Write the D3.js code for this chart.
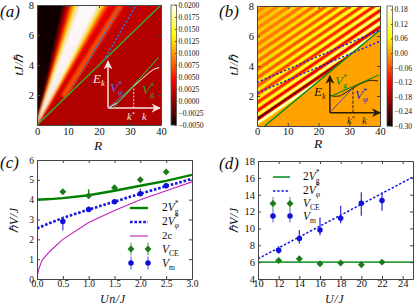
<!DOCTYPE html>
<html>
<head>
<meta charset="utf-8">
<script src="https://d3js.org/d3.v7.min.js"></script>
<style>
body { margin: 0; background: #fff; }
svg { display: block; }
text { font-family: "Liberation Serif", serif; fill: #111; }
.domain { stroke: #444; }
.tick line { stroke: #444; }
</style>
</head>
<body>
<div id="chart"></div>
<script>
// panel a: colour at t=8 for each R, the fan narrows towards the origin
var aFanR = [0, 8, 9, 10, 11, 12, 13, 14, 19.5, 20.5, 21.5, 22.5, 23.5, 24.5, 26, 30, 32, 36, 40];
var aFanV = [-0.005, -0.005, -0.002, 0.002, 0.006, 0.0115, 0.017, 0.021, 0.021, 0.017, 0.012, 0.007, 0.0042, 0.0032, 0.003, 0.0022, 0.0019, 0.0018, 0.002];
var aRidgeR = [8.5, 27.0];
var aRidgeT = [1.9, 8.0];
var aCbarTicks = [-0.005, -0.0025, 0, 0.0025, 0.005, 0.0075, 0.01, 0.0125, 0.015, 0.0175, 0.02];
var aDot1R = [10.3, 27.3], aDot1T = [2.2, 8];
var aDot2R = [21.5, 32], aDot2T = [4.3, 8];
var aGreenR = [0, 40], aGreenT = [0, 8];
var aInsetCurveR = [22.9, 26, 28.5, 31, 34, 36.5, 38, 39.4];
var aInsetCurveT = [1.13, 1.5, 2.0, 2.55, 3.1, 3.55, 3.75, 3.82];
var aInsetBlueR = [22.9, 31.2], aInsetBlueT = [1.13, 2.6];
var aInsetGreenR = [24.5, 39.2], aInsetGreenT = [1.13, 4.5];

// panel b: stripes, t where each crosses R=0 and R=40, and colour at both ends
var bStripeT0 = [0.18, 0.46, 0.73, 1.01, 1.28, 1.56, 1.83, 2.11, 2.38, 2.66, 2.93, 3.21, 3.48, 3.76, 4.03, 4.31, 4.58, 4.86, 5.13, 5.41, 5.68, 5.96, 6.23, 6.51, 6.78, 7.06, 7.33, 7.61, 7.88];
var bStripeT40 = [5.78, 6.06, 6.33, 6.61, 6.88, 7.16, 7.43, 7.71, 7.98, 8.26, 8.53, 8.81, 9.08, 9.36, 9.63, 9.91, 10.18, 10.46, 10.73, 11.01, 11.28, 11.56, 11.83, 12.11, 12.38, 12.66, 12.93, 13.21, 13.48];
var bStripeV0 = [0.19, -0.25, 0.12, -0.13, 0.08, -0.09, 0.07, -0.07, 0.06, -0.06, 0.05, -0.05, 0.05, -0.05, 0.04, -0.04, 0.04, -0.04, 0.03, -0.03, 0.03, -0.03, 0.03, -0.02, 0.03, -0.02, 0.02, -0.02, 0.02];
var bStripeV40 = [0.19, -0.17, 0.19, -0.16, 0.17, -0.14, 0.15, -0.13, 0.13, -0.12, 0.12, -0.1, 0.11, -0.09, 0.1, -0.08, 0.09, -0.08, 0.08, -0.07, 0.07, -0.06, 0.06, -0.05, 0.05, -0.05, 0.04, -0.04, 0.03];
var bCbarTicks = [-0.3, -0.24, -0.18, -0.12, -0.06, 0, 0.06, 0.12, 0.18];
var bDot1R = [0, 40], bDot1T = [2.2, 5.65];
var bDot2R = [0, 40], bDot2T = [2.9, 6.4];
var bGreenR = [2.5, 40], bGreenT = [0, 6.4];
var bInsetCurveR = [23.7, 25, 27, 29, 31.2, 33.5, 35.8, 37.5, 39.4];
var bInsetCurveT = [2.07, 1.98, 2.0, 2.25, 2.53, 2.8, 3.0, 3.05, 3.0];
var bInsetBlueR = [23.7, 31.2], bInsetBlueT = [0.89, 2.55];
var bInsetGreenR = [23.7, 39.6], bInsetGreenT = [1.95, 3.4];

// panel c
var cLineU = [0, 0.02, 0.05, 0.1, 0.25, 0.5, 1, 1.5, 2, 2.5, 3];
var cGroup = [4, 4, 4.01, 4.01, 4.03, 4.08, 4.22, 4.45, 4.7, 4.95, 5.25];
var cPhase = [2.55, 2.57, 2.6, 2.66, 2.82, 3.08, 3.5, 3.9, 4.3, 4.68, 5.05];
var cSound = [0, 0.35, 0.62, 0.95, 1.4, 2.0, 2.85, 3.45, 4.0, 4.45, 4.9];
var cPointU = [0.5, 1, 1.5, 2, 2.5];
var cCE = [4.4, 4.2, 4.6, 5.0, 5.4];
var cCEup = [0.08, 0.33, 0.12, 0.08, 0.08];
var cCEdown = [0.08, 0.1, 0.12, 0.08, 0.08];
var cVm = [2.9, 3.5, 3.9, 4.3, 4.7];
var cVmUp = [0.2, 0.15, 0.12, 0.25, 0.12];
var cVmDown = [0.45, 0.12, 0.12, 0.12, 0.12];

// panel d
var dLineU = [10, 25];
var dGroup = [6, 6];
var dPhase = [6.4, 16.1];
var dPointU = [12, 14, 16, 18, 20, 22];
var dCE = [6.2, 6.4, 5.8, 5.9, 5.7, 6.0];
var dVm = [7.4, 8.8, 9.8, 11.2, 13, 13.3];
var dVmUp = [0.5, 1.0, 1.5, 1.5, 1.3, 1.0];
var dVmDown = [0.4, 0.6, 0.6, 0.6, 1.5, 1.2];

var svg = d3.select("#chart").append("svg")
    .attr("width", 415)
    .attr("height", 307);
var defs = svg.append("defs");

defs.append("filter").attr("id", "soft")
    .attr("x", "-10%").attr("y", "-10%").attr("width", "120%").attr("height", "120%")
    .append("feGaussianBlur").attr("stdDeviation", 0.9);
defs.append("filter").attr("id", "softB")
    .attr("x", "-10%").attr("y", "-10%").attr("width", "120%").attr("height", "120%")
    .append("feGaussianBlur").attr("stdDeviation", 0.5);

defs.append("marker").attr("id", "headW")
    .attr("viewBox", "0 0 10 10").attr("refX", 9).attr("refY", 5)
    .attr("markerWidth", 6).attr("markerHeight", 6).attr("orient", "auto")
    .append("path").attr("d", "M0,0L10,5L0,10L3,5Z").attr("fill", "#f4e4e4");
defs.append("marker").attr("id", "headK")
    .attr("viewBox", "0 0 10 10").attr("refX", 9).attr("refY", 5)
    .attr("markerWidth", 6).attr("markerHeight", 6).attr("orient", "auto")
    .append("path").attr("d", "M0,0L10,5L0,10L3,5Z").attr("fill", "#2a1c00");

// matplotlib hot
function hotScale(lo, hi) {
    var s = d3.scaleLinear().domain([0, 0.365, 0.746, 1])
        .range(["#0a0000", "#ff0000", "#ffff00", "#ffffff"]).clamp(true);
    return function (v) { return s((v - lo) / (hi - lo)); };
}
var aColor = hotScale(-0.005, 0.02);
var bColor = hotScale(-0.30, 0.194);

function frame(g, x, y, xTicks, yTicks, xFmt, yFmt, fs, xPad) {
    var w = x.range()[1] - x.range()[0];
    var h = y.range()[0] - y.range()[1];
    g.append("g").attr("transform", `translate(0,${h})`)
        .call(d3.axisBottom(x).tickValues(xTicks).tickFormat(xFmt).tickSizeInner(-3).tickSizeOuter(0).tickPadding(xPad));
    g.append("g")
        .call(d3.axisLeft(y).tickValues(yTicks).tickFormat(yFmt).tickSizeInner(-3).tickSizeOuter(0).tickPadding(3));
    g.append("g").call(d3.axisTop(x).tickValues(xTicks).tickFormat("").tickSizeInner(-3).tickSizeOuter(0));
    g.append("g").attr("transform", `translate(${w},0)`)
        .call(d3.axisRight(y).tickValues(yTicks).tickFormat("").tickSizeInner(-3).tickSizeOuter(0));
    g.selectAll(".tick text").style("font-family", '"Liberation Serif", serif').style("font-size", fs + "px").style("fill", "#111");
}

function colorbar(g, x, y, w, h, lo, hi, color, ticks, fmt) {
    var s = d3.scaleLinear().domain([lo, hi]).range([h, 0]);
    var bar = g.append("g").attr("transform", `translate(${x},${y})`);
    bar.selectAll("rect").data(d3.range(h)).enter().append("rect")
        .attr("x", 0).attr("y", d => d).attr("width", w).attr("height", 1.2)
        .attr("fill", d => color(s.invert(d + 0.5)));
    bar.append("rect").attr("width", w).attr("height", h)
        .attr("fill", "none").attr("stroke", "#555").attr("stroke-width", 0.8);
    var ax = bar.append("g").attr("transform", `translate(${w},0)`)
        .call(d3.axisRight(s).tickValues(ticks).tickFormat(d3.format(fmt)).tickSizeInner(-1.5).tickSizeOuter(0).tickPadding(2));
    ax.select(".domain").remove();
    ax.selectAll(".tick text").style("font-size", "7.6px").style("font-family", '"Liberation Serif", serif').style("fill", "#111");
}

// text made of [string, style] runs, style "sub" and "sup" shift the baseline
// a "sub" right after a "sup" is stacked under it
function richText(g, x, y, size, fill, runs, rotate) {
    var t = g.append("text").attr("font-size", size).attr("font-style", "italic").style("fill", fill);
    if (rotate) t.attr("transform", `translate(${x},${y}) rotate(-90)`).attr("text-anchor", "middle");
    else t.attr("x", x).attr("y", y);
    var shift = 0, prev = "";
    runs.forEach(function (r) {
        var want = r[1] == "sub" ? 0.22 * size : r[1] == "sup" ? -0.4 * size : 0;
        var span = t.append("tspan").text(r[0]).attr("dy", want - shift);
        if (r[1]) span.attr("font-size", size * 0.66);
        if (r[2]) span.attr("font-style", "normal");
        if (r[1] == "sub" && prev == "sup") span.attr("dx", -0.33 * size);
        shift = want;
        prev = r[1];
    });
    return t;
}

function zipLine(x, y, xs, ys) {
    return d3.line().x(d => x(d[0])).y(d => y(d[1]))(d3.zip(xs, ys));
}

/********************************************************/
// panel a

var ax = d3.scaleLinear().domain([0, 40]).range([0, 124]);
var ay = d3.scaleLinear().domain([0, 8]).range([120, 0]);
var ga = svg.append("g").attr("transform", "translate(37,5)");
defs.append("clipPath").attr("id", "clipA").append("rect").attr("width", 124).attr("height", 120);

var heatA = ga.append("g").attr("clip-path", "url(#clipA)");
heatA.append("rect").attr("width", 124).attr("height", 120).attr("fill", aColor(0.0012));
var softA = heatA.append("g").attr("filter", "url(#soft)");
var fanStep = d3.pairs(d3.merge(d3.pairs(aFanR).map(function (p) {
    return d3.range(0, 1, 0.25).map(f => p[0] + (p[1] - p[0]) * f);
})).concat([40]));
var fanColor = d3.scaleLinear().domain(aFanR).range(aFanV);
softA.selectAll("path.fan").data(fanStep).enter().append("path")
    .attr("class", "fan")
    .attr("d", d => `M${ax(0)},${ay(0)}L${ax(d[0] * 1.1)},${ay(8.8)}L${ax(d[1] * 1.1)},${ay(8.8)}Z`)
    .attr("fill", d => aColor(fanColor((d[0] + d[1]) / 2)))
    .attr("stroke", d => aColor(fanColor((d[0] + d[1]) / 2)))
    .attr("stroke-width", 0.3);
softA.append("path").attr("d", zipLine(ax, ay, aRidgeR, aRidgeT))
    .attr("fill", "none").attr("stroke", aColor(0.0068)).attr("stroke-width", 5);

ga.append("path").attr("d", zipLine(ax, ay, aGreenR, aGreenT))
    .attr("fill", "none").attr("stroke", "#2fb82f").attr("stroke-width", 1.2);
[[aDot1R, aDot1T], [aDot2R, aDot2T]].forEach(function (d) {
    ga.append("path").attr("d", zipLine(ax, ay, d[0], d[1]))
        .attr("fill", "none").attr("stroke", "#3f78d8").attr("stroke-width", 1.4).attr("stroke-dasharray", "2 2");
});

frame(ga, ax, ay, [0, 10, 20, 30, 40], [2, 4, 6, 8], d3.format("d"), d3.format("d"), 10.5, 3);
colorbar(svg, 171, 5, 5.5, 120, -0.005, 0.02, aColor, aCbarTicks, ".4f");

// inset a
ga.append("path").attr("d", zipLine(ax, ay, [22.9, 22.9], [1.13, 4.25]))
    .attr("stroke", "#f4e4e4").attr("stroke-width", 1.5).attr("marker-end", "url(#headW)");
ga.append("path").attr("d", zipLine(ax, ay, [22.9, 39.6], [1.13, 1.13]))
    .attr("stroke", "#f4e4e4").attr("stroke-width", 1.5).attr("marker-end", "url(#headW)");
ga.append("path").attr("d", zipLine(ax, ay, aInsetCurveR, aInsetCurveT))
    .attr("fill", "none").attr("stroke", "#fff").attr("stroke-width", 1);
ga.append("path").attr("d", zipLine(ax, ay, aInsetBlueR, aInsetBlueT))
    .attr("fill", "none").attr("stroke", "#6a70d8").attr("stroke-width", 1);
ga.append("path").attr("d", zipLine(ax, ay, aInsetGreenR, aInsetGreenT))
    .attr("fill", "none").attr("stroke", "#2fb82f").attr("stroke-width", 1.1);
ga.append("path").attr("d", zipLine(ax, ay, [31.2, 31.2], [1.13, 2.55]))
    .attr("stroke", "#f4e4e4").attr("stroke-width", 1).attr("stroke-dasharray", "2 1.5");

richText(svg, 93, 83, 13, "#f4e4e4", [["E", ""], ["k", "sub"]]);
richText(svg, 110, 92, 13, "#5a6fe0", [["V", ""], ["*", "sup", 1], ["φ", "sub"]]);
richText(svg, 142, 94, 13, "#2aa52a", [["V", ""], ["*", "sup", 1], ["g", "sub", 1]]);
richText(svg, 127, 120, 10.5, "#f4e4e4", [["k", ""], ["*", "sup", 1]]);
richText(svg, 142, 120, 10.5, "#f4e4e4", [["k", ""]]);

svg.append("text").attr("x", 0).attr("y", 17).attr("font-size", 17).attr("font-style", "italic").text("(a)");
richText(svg, 23, 65, 13, "#111", [["tJ/ℏ", ""]], true);
richText(svg, 94, 150, 13.5, "#111", [["R", ""]]);

/********************************************************/
// panel b

var bx = d3.scaleLinear().domain([0, 40]).range([0, 123]);
var by = d3.scaleLinear().domain([0, 8]).range([120, 0]);
var gb = svg.append("g").attr("transform", "translate(257,6)");
defs.append("clipPath").attr("id", "clipB").append("rect").attr("width", 123).attr("height", 120);
// region above the sound-cone line, the stripes only live in there
defs.append("clipPath").attr("id", "wedgeB").append("path")
    .attr("d", `M${bx(0)},${by(8)}L${bx(40)},${by(8)}L${bx(40)},${by(6.4)}L${bx(2.5)},${by(0)}L${bx(0)},${by(0)}Z`);

var heatB = gb.append("g").attr("clip-path", "url(#clipB)");
heatB.append("rect").attr("width", 123).attr("height", 120).attr("fill", bColor(0));
var softB = heatB.append("g").attr("clip-path", "url(#wedgeB)").append("g").attr("filter", "url(#softB)");
softB.append("rect").attr("x", -6).attr("y", -6).attr("width", 135).attr("height", 132).attr("fill", bColor(0.005));

// each stripe is three nested strokes so the crest fades into orange through the colormap
var bLevels = [[0.4, 3.8], [0.72, 2.5], [1, 1.2]];
bStripeT0.forEach(function (t0, i) {
    bLevels.forEach(function (lv, j) {
        var id = "st" + i + "_" + j;
        var grad = defs.append("linearGradient").attr("id", id)
            .attr("gradientUnits", "userSpaceOnUse")
            .attr("x1", bx(0)).attr("y1", 0).attr("x2", bx(40)).attr("y2", 0);
        d3.range(0, 1.01, 0.25).forEach(function (f) {
            grad.append("stop").attr("offset", f)
                .attr("stop-color", bColor(lv[0] * (bStripeV0[i] + (bStripeV40[i] - bStripeV0[i]) * f)));
        });
        softB.append("path")
            .attr("d", zipLine(bx, by, [0, 40], [t0, bStripeT40[i]]))
            .attr("fill", "none").attr("stroke", `url(#${id})`).attr("stroke-width", lv[1]);
    });
});

gb.append("path").attr("d", zipLine(bx, by, bGreenR, bGreenT))
    .attr("fill", "none").attr("stroke", "#0a8a1a").attr("stroke-width", 1.6);
[[bDot1R, bDot1T], [bDot2R, bDot2T]].forEach(function (d) {
    gb.append("path").attr("d", zipLine(bx, by, d[0], d[1]))
        .attr("fill", "none").attr("stroke", "#1a1ae0").attr("stroke-width", 1.4).attr("stroke-dasharray", "2.2 2");
});

frame(gb, bx, by, [0, 10, 20, 30, 40], [2, 4, 6, 8], d3.format("d"), d3.format("d"), 10.5, 2);
colorbar(svg, 387, 6, 5.5, 120, -0.30, 0.194, bColor, bCbarTicks, ".2f");

// inset b
gb.append("path").attr("d", zipLine(bx, by, [23.7, 23.7], [0.89, 3.35]))
    .attr("stroke", "#2a1c00").attr("stroke-width", 1.5).attr("marker-end", "url(#headK)");
gb.append("path").attr("d", zipLine(bx, by, [23.7, 40], [0.89, 0.89]))
    .attr("stroke", "#2a1c00").attr("stroke-width", 1.5).attr("marker-end", "url(#headK)");
gb.append("path").attr("d", zipLine(bx, by, bInsetCurveR, bInsetCurveT))
    .attr("fill", "none").attr("stroke", "#2a1c00").attr("stroke-width", 1);
gb.append("path").attr("d", zipLine(bx, by, bInsetBlueR, bInsetBlueT))
    .attr("fill", "none").attr("stroke", "#3a3ad0").attr("stroke-width", 0.9);
gb.append("path").attr("d", zipLine(bx, by, bInsetGreenR, bInsetGreenT))
    .attr("fill", "none").attr("stroke", "#0a8a1a").attr("stroke-width", 1.1);
gb.append("path").attr("d", zipLine(bx, by, [31.2, 31.2], [0.89, 2.55]))
    .attr("stroke", "#2a1c00").attr("stroke-width", 1).attr("stroke-dasharray", "3 1.5");

richText(svg, 314, 96, 13, "#2a1c00", [["E", ""], ["k", "sub"]]);
richText(svg, 335, 85, 13, "#0a8a1a", [["V", ""], ["*", "sup", 1], ["g", "sub", 1]]);
richText(svg, 355, 99, 13, "#2020d8", [["V", ""], ["*", "sup", 1], ["φ", "sub"]]);
richText(svg, 347, 124, 10.5, "#2a1c00", [["k", ""], ["*", "sup", 1]]);
richText(svg, 362, 124, 10.5, "#2a1c00", [["k", ""]]);

svg.append("text").attr("x", 219).attr("y", 17).attr("font-size", 17).attr("font-style", "italic").text("(b)");
richText(svg, 238, 65, 13, "#111", [["tJ/ℏ", ""]], true);
richText(svg, 314, 148, 13.5, "#111", [["R", ""]]);

/********************************************************/
// panels c and d share the error bar drawing

function errorPoints(g, x, y, xs, ys, up, down, color, barColor, diamond) {
    xs.forEach(function (u, i) {
        g.append("line")
            .attr("x1", x(u)).attr("x2", x(u))
            .attr("y1", y(ys[i] + up[i])).attr("y2", y(ys[i] - down[i]))
            .attr("stroke", barColor).attr("stroke-width", 1.3);
        var m = g.append("path").attr("fill", color);
        if (diamond) {
            m.attr("d", d3.symbol().type(d3.symbolSquare).size(24)())
                .attr("transform", `translate(${x(u)},${y(ys[i])}) rotate(45)`);
        } else {
            m.attr("d", d3.symbol().type(d3.symbolCircle).size(24)())
                .attr("transform", `translate(${x(u)},${y(ys[i])})`);
        }
    });
}

function legendPair(g, x1, x2, yy, color, barColor, diamond) {
    [x1, x2].forEach(function (xp) {
        g.append("line").attr("x1", xp).attr("x2", xp).attr("y1", yy - 6.5).attr("y2", yy + 6.5)
            .attr("stroke", barColor).attr("stroke-width", 1.3);
        var m = g.append("path").attr("fill", color);
        if (diamond) {
            m.attr("d", d3.symbol().type(d3.symbolSquare).size(24)())
                .attr("transform", `translate(${xp},${yy}) rotate(45)`);
        } else {
            m.attr("d", d3.symbol().type(d3.symbolCircle).size(24)())
                .attr("transform", `translate(${xp},${yy})`);
        }
    });
}

/********************************************************/
// panel c

var cx = d3.scaleLinear().domain([0, 3]).range([0, 155]);
var cy = d3.scaleLinear().domain([0, 6]).range([119, 0]);
var gc = svg.append("g").attr("transform", "translate(37,160)");
defs.append("clipPath").attr("id", "clipC").append("rect").attr("width", 155).attr("height", 119);
var plotC = gc.append("g").attr("clip-path", "url(#clipC)");

plotC.append("path").attr("d", zipLine(cx, cy, cLineU, cGroup))
    .attr("fill", "none").attr("stroke", "#008000").attr("stroke-width", 2.4);
plotC.append("path").attr("d", zipLine(cx, cy, cLineU, cPhase))
    .attr("fill", "none").attr("stroke", "#1515e0").attr("stroke-width", 2.6).attr("stroke-dasharray", "2.6 1.8");
plotC.append("path").attr("d", zipLine(cx, cy, cLineU, cSound))
    .attr("fill", "none").attr("stroke", "#c020c0").attr("stroke-width", 1.1);

frame(gc, cx, cy, [0, 0.5, 1, 1.5, 2, 2.5, 3], [0, 1, 2, 3, 4, 5, 6], d3.format(".1f"), d3.format("d"), 9.5, 1);

errorPoints(gc, cx, cy, cPointU, cCE, cCEup, cCEdown, "#1a7a1a", "#1a7a1a", true);
errorPoints(gc, cx, cy, cPointU, cVm, cVmUp, cVmDown, "#1010d8", "#4a4ae0", false);

svg.append("line").attr("x1", 130).attr("x2", 148).attr("y1", 208).attr("y2", 208)
    .attr("stroke", "#008000").attr("stroke-width", 2.4);
svg.append("line").attr("x1", 130).attr("x2", 148).attr("y1", 222).attr("y2", 222)
    .attr("stroke", "#1515e0").attr("stroke-width", 2.6).attr("stroke-dasharray", "2.6 1.8");
svg.append("line").attr("x1", 130).attr("x2", 148).attr("y1", 236).attr("y2", 236)
    .attr("stroke", "#c020c0").attr("stroke-width", 1.1);
legendPair(svg, 131, 148, 249, "#1a7a1a", "#7ab07a", true);
legendPair(svg, 131, 148, 263, "#1010d8", "#7a7ae8", false);

richText(svg, 162, 211, 11.5, "#111", [["2", "", 1], ["V", ""], ["*", "sup", 1], ["g", "sub", 1]]);
richText(svg, 162, 225, 11.5, "#111", [["2", "", 1], ["V", ""], ["*", "sup", 1], ["φ", "sub"]]);
richText(svg, 162, 239, 11, "#111", [["2c", "", 1]]);
richText(svg, 162, 253, 11.5, "#111", [["V", ""], ["CE", "sub", 1]]);
richText(svg, 162, 267, 11.5, "#111", [["V", ""], ["m", "sub", 1]]);

svg.append("text").attr("x", 0).attr("y", 168).attr("font-size", 17).attr("font-style", "italic").text("(c)");
richText(svg, 18, 220, 12, "#111", [["ℏV/J", ""]], true).style("letter-spacing", "0.6px");
richText(svg, 100, 303, 12, "#111", [["Un/J", ""]]).style("letter-spacing", "0.6px");

/********************************************************/
// panel d

var dx = d3.scaleLinear().domain([10, 25]).range([0, 155]);
var dy = d3.scaleLinear().domain([4, 18]).range([118, 0]);
var gd = svg.append("g").attr("transform", "translate(258,161)");
defs.append("clipPath").attr("id", "clipD").append("rect").attr("width", 155).attr("height", 118);
var plotD = gd.append("g").attr("clip-path", "url(#clipD)");

plotD.append("path").attr("d", zipLine(dx, dy, dLineU, dGroup))
    .attr("fill", "none").attr("stroke", "#2e9e3e").attr("stroke-width", 1.8);
plotD.append("path").attr("d", zipLine(dx, dy, dLineU, dPhase))
    .attr("fill", "none").attr("stroke", "#1515e0").attr("stroke-width", 1.5).attr("stroke-dasharray", "2.4 1.8");

frame(gd, dx, dy, d3.range(10, 25, 2), d3.range(4, 19, 2), d3.format("d"), d3.format("d"), 10.5, 1);

var dZero = dPointU.map(() => 0);
errorPoints(gd, dx, dy, dPointU, dCE, dZero, dZero, "#1a7a1a", "#1a7a1a", true);
errorPoints(gd, dx, dy, dPointU, dVm, dVmUp, dVmDown, "#1010d8", "#3a3ae0", false);

svg.append("line").attr("x1", 273).attr("x2", 290).attr("y1", 177).attr("y2", 177)
    .attr("stroke", "#2e9e3e").attr("stroke-width", 1.8);
svg.append("line").attr("x1", 273).attr("x2", 290).attr("y1", 191).attr("y2", 191)
    .attr("stroke", "#1515e0").attr("stroke-width", 1.5).attr("stroke-dasharray", "2.4 1.8");
legendPair(svg, 273, 290, 203.5, "#1a7a1a", "#7ab07a", true);
legendPair(svg, 273, 290, 216, "#1010d8", "#7a7ae8", false);

richText(svg, 303, 180, 11.5, "#111", [["2", "", 1], ["V", ""], ["*", "sup", 1], ["g", "sub", 1]]);
richText(svg, 303, 194, 11.5, "#111", [["2", "", 1], ["V", ""], ["*", "sup", 1], ["φ", "sub"]]);
richText(svg, 303, 207, 11.5, "#111", [["V", ""], ["CE", "sub", 1]]);
richText(svg, 303, 220, 11.5, "#111", [["V", ""], ["m", "sub", 1]]);

svg.append("text").attr("x", 219).attr("y", 169).attr("font-size", 17).attr("font-style", "italic").text("(d)");
richText(svg, 238, 220, 12, "#111", [["ℏV/J", ""]], true).style("letter-spacing", "0.6px");
richText(svg, 325, 303, 12, "#111", [["U/J", ""]]).style("letter-spacing", "0.6px");
</script>
</body>
</html>
